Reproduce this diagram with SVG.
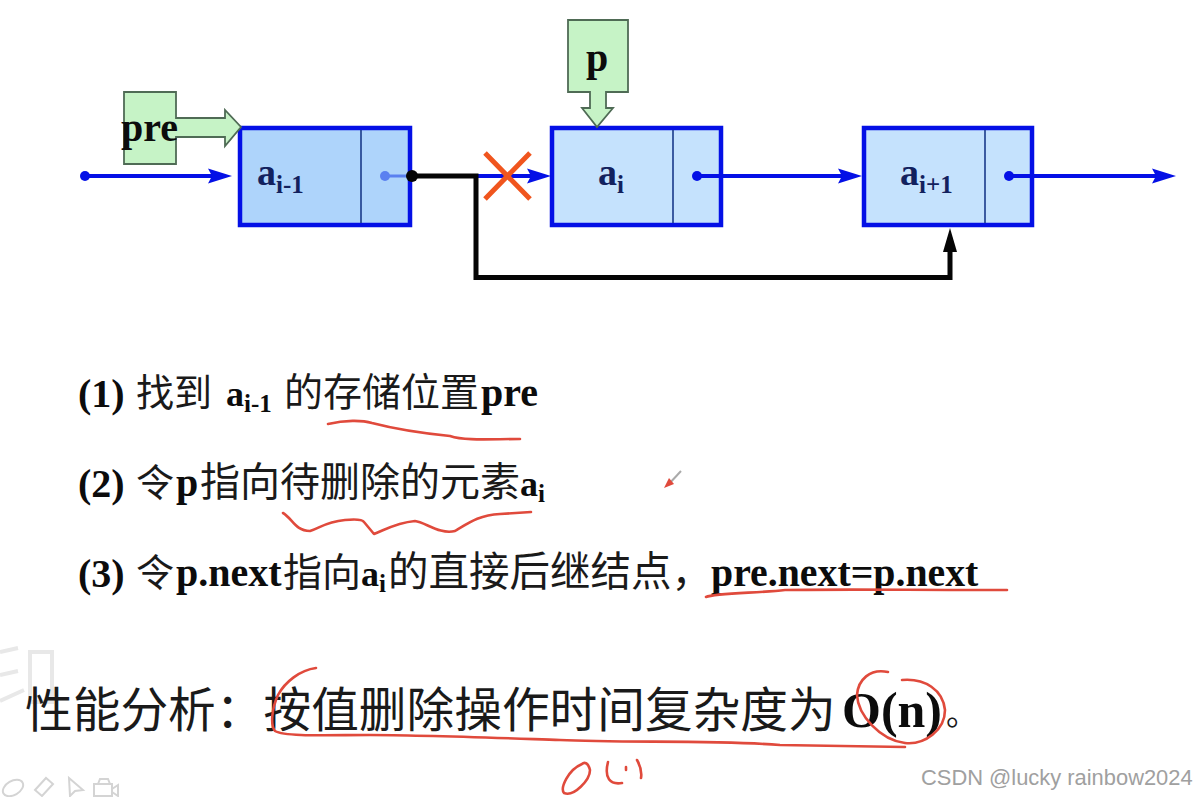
<svg xmlns="http://www.w3.org/2000/svg" width="1196" height="797" viewBox="0 0 1196 797">
<style>
.n{stroke:#0410e6;stroke-width:4.5}
.d{stroke:#1a3a8a;stroke-width:1.6}
.g{fill:#c6f3c6;stroke:#4f6b55;stroke-width:1.8}
.l{font-family:"Liberation Serif",serif;font-weight:bold;fill:#12215e}
.b{font-family:"Liberation Serif",serif;font-weight:bold;fill:#0c0c0c}
.c{font-family:"Noto Sans CJK SC",sans-serif;fill:#1a1a1a}
.w{fill:none;stroke:#0410e6;stroke-width:4}
.k{fill:none;stroke:#050505;stroke-width:5}
.r{fill:none;stroke:#e04a3c;stroke-width:2.6;stroke-linecap:round;stroke-linejoin:round}
.f{fill:none;stroke:#e8e8e8;stroke-width:4}
.t{fill:none;stroke:#d4d4d4;stroke-width:2}
</style>
<defs>
<marker id="ab" markerUnits="userSpaceOnUse" markerWidth="24" markerHeight="16" refX="8" refY="8" orient="auto"><path d="M0 0.500L24 8L0 15.500L4 8Z" fill="#0410e6"/></marker>
</defs>
<rect width="1196" height="797" fill="#fff"/>
<g id="faint"><path class="f" d="M0 652L18 648M0 675L18 671M0 701L24 690"/><rect class="f" x="30" y="652" width="22" height="50"/></g>
<g id="node-prev"><rect class="n" x="240" y="128" width="170" height="97" fill="#aed4fb"/><path class="d" d="M361 130V223"/><text class="l" x="257" y="185" font-size="38">a<tspan font-size="25" dy="8">i-1</tspan></text></g>
<g id="node-cur"><rect class="n" x="552" y="128" width="169" height="97" fill="#c5e2fd"/><path class="d" d="M673 130V223"/><text class="l" x="598" y="185" font-size="38">a<tspan font-size="25" dy="8">i</tspan></text></g>
<g id="node-next"><rect class="n" x="864" y="128" width="168" height="97" fill="#c5e2fd"/><path class="d" d="M985 130V223"/><text class="l" x="900" y="185" font-size="38">a<tspan font-size="25" dy="8">i+1</tspan></text></g>
<g id="connectors">
<path class="w" d="M85 176H216" marker-end="url(#ab)"/><circle cx="85" cy="176" r="5" fill="#0410e6"/>
<circle cx="385" cy="176" r="5" fill="#5a80f0"/><path d="M385 176H410" stroke="#5a80f0" stroke-width="3"/>
<path class="w" d="M476 176H535" marker-end="url(#ab)"/>
<path class="w" d="M697 176H846" marker-end="url(#ab)"/><circle cx="697" cy="176" r="5" fill="#0410e6"/>
<path class="w" d="M1009 176H1160" marker-end="url(#ab)"/><circle cx="1009" cy="176" r="5" fill="#0410e6"/>
<path class="k" d="M412 176H476V277.500H950V245"/><circle cx="412" cy="176" r="6" fill="#050505"/><path d="M943 252L950 228L957 252Z" fill="#050505"/>
<path d="M485 153L530 199M530 153L485 199" stroke="#f0551e" stroke-width="5" fill="none"/>
</g>
<g id="pre"><path class="g" d="M124 92H176V118H225V110L241 127L225 146V137H176V164H124Z"/><text class="b" x="121" y="141" font-size="40">pre</text></g>
<g id="p"><path class="g" d="M568 20H628V92H606V108H613L597 127L582 108H590V92H568Z"/><text class="b" x="586" y="71" font-size="40">p</text></g>
<g id="steps">
<text class="b" x="78" y="407" font-size="40">(1)</text><text class="c" x="136" y="406" font-size="38">找到</text><text class="b" x="226" y="406" font-size="36">a<tspan font-size="25" dy="6">i-1</tspan></text><text class="c" x="284" y="406" font-size="39">的存储位置</text><text class="b" x="481" y="406" font-size="40">pre</text>
<text class="b" x="78" y="497" font-size="40">(2)</text><text class="c" x="136" y="496" font-size="38">令</text><text class="b" x="176" y="496" font-size="40">p</text><text class="c" x="200" y="496" font-size="40">指向待删除的元素</text><text class="b" x="520" y="496" font-size="36">a<tspan font-size="25" dy="6">i</tspan></text>
<text class="b" x="78" y="587" font-size="40">(3)</text><text class="c" x="136" y="586" font-size="38">令</text><text class="b" x="176" y="586" font-size="40">p.next</text><text class="c" x="283" y="586" font-size="39">指向</text><text class="b" x="361" y="586" font-size="36">a<tspan font-size="25" dy="6">i</tspan></text><text class="c" x="388" y="586" font-size="40.500">的直接后继结点，</text><text class="b" x="711" y="586" font-size="39.800">pre.next=p.next</text>
</g>
<g id="perf"><text class="c" x="25" y="727" font-size="47.700">性能分析：按值删除操作时间复杂度为</text><text class="b" x="842" y="727" font-size="50">O(n)</text><text class="c" x="946" y="725" font-size="32">。</text></g>
<g id="ink">
<path class="r" d="M328 424C345 420 362 420 372 423C395 429 420 433 450 436C465 441 490 439 520 439"/>
<path class="r" d="M283 513C292 518 295 531 310 531C320 528 325 522 345 520C355 519 362 519 364 522L374 534C385 530 395 523 415 521C425 522 440 535 455 531C470 522 480 515 500 514L531 512"/>
<path class="r" d="M706 597C715 593 760 593 785 590C850 589 900 590 1007 590"/>
<path class="r" d="M316 668C300 670 285 682 278 695C272 708 270 725 275 731C285 737 330 735 370 735C420 735 500 738 560 740C620 743 720 740 780 745L905 747"/>
<path class="r" d="M888 672C870 668 858 680 857 695C858 715 880 740 905 743C925 745 945 730 945 710C943 690 925 678 902 680"/>
<path class="r" d="M582 764C568 770 560 788 564 793C574 797 590 780 590 770C588 762 584 762 582 764"/>
<path class="r" d="M608 762C604 778 610 785 622 783M637 760C641 767 642 772 641 778M626 767V770"/>
<path d="M668 485L681 471" stroke="#aaa" stroke-width="2"/><path d="M664 488L669 478L674 484Z" fill="#e04a3c"/>
</g>
<g id="toolbar"><ellipse class="t" cx="13" cy="788" rx="11" ry="7" transform="rotate(-30 13 788)"/><path class="t" d="M35 790L46 778L53 784L42 796Z"/><path class="t" d="M69 778L83 790L75 791L70 796Z"/><rect class="t" x="94" y="784" width="18" height="12"/><path class="t" d="M112 789L118 785V796L112 792M98 784L100 779H108L110 784"/></g>
<text x="921" y="785" font-family="Liberation Sans,sans-serif" font-size="21.900" fill="#a0a0a0">CSDN @lucky rainbow2024</text>
</svg>
